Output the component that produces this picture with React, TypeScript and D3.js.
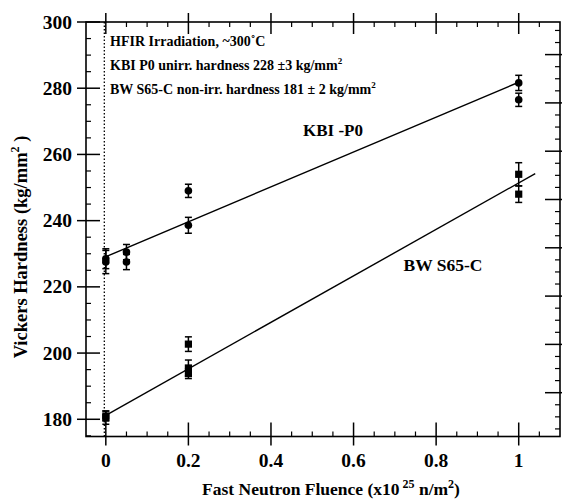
import React from "react"
import * as d3 from "d3"

// KBI-P0 (circles)
const kbiFluence = [0, 0, 0.05, 0.05, 0.2, 0.2, 1, 1]
const kbiHardness = [228.5, 227.5, 230.5, 227.5, 249, 238.6, 281.6, 276.5]
const kbiError = [3, 3.5, 2.3, 2.3, 2, 2.4, 2.3, 2]

// BW S65-C (squares)
const bwFluence = [0, 0, 0.2, 0.2, 0.2, 1, 1]
const bwHardness = [180.5, 181, 202.7, 195.5, 193.8, 254, 248]
const bwError = [2, 1.5, 2.2, 2.4, 1.5, 3.5, 2.5]

// fit lines [start fluence, end fluence], [intercept, slope]
const kbiFitRange = [0, 1]
const kbiFitCoef = [229.1, 52.7]
const bwFitRange = [0, 1.04]
const bwFitCoef = [181.2, 70.2]

const xTicks = [0, 0.2, 0.4, 0.6, 0.8, 1]
const xTickLabels = ["0", "0.2", "0.4", "0.6", "0.8", "1"]
const yTicks = [180, 200, 220, 240, 260, 280, 300]
const yTickLabels = ["180", "200", "220", "240", "260", "280", "300"]
// right-hand axis (secondary unit, unlabelled)
const rightTicks = [1, 2, 3, 4, 5, 6, 7, 8]

const notes = [
  ["HFIR Irradiation, ~300˚C", ""],
  ["KBI P0 unirr. hardness 228 ±3 kg/mm", "2"],
  ["BW S65-C non-irr. hardness 181 ± 2 kg/mm", "2"],
]

const txt = { fontFamily: "Liberation Serif", fontWeight: 700 }

const App = () => {
  const width = 562
  const height = 500
  const left = 86
  const right = 560
  const top = 22
  const bottom = 436.5
  const majOut = 9
  const majIn = 14
  const minIn = 5

  const x = d3.scaleLinear().domain([-0.048, 1.1]).range([left, right])
  const y = d3.scaleLinear().domain([174.8, 300]).range([bottom, top])
  const yR = d3.scaleLinear().domain([0.093, 8.675]).range([bottom, top])

  const xMinor = d3
    .range(-0.05, 1.1, 0.05)
    .filter((v) => v > -0.048 && v < 1.1 && Math.abs(v * 5 - Math.round(v * 5)) > 0.01)
  const yMinor = d3.range(175, 300, 5).filter((v) => v % 20 !== 0 && v > 174.8)
  const rMinor = d3
    .range(0, 8.75, 0.25)
    .filter((v) => v > 0.093 && v < 8.675 && v % 1 !== 0)

  const line = d3
    .line<number[]>()
    .x((d) => x(d[0]))
    .y((d) => y(d[1]))

  const fit = (range: number[], coef: number[]) =>
    line(range.map((f) => [f, coef[0] + coef[1] * f]))

  return (
    <svg
      width={width}
      height={height}
      style={{ position: "absolute", left: 0, top: 0, background: "#fff" }}
    >
      {/* frame */}
      <rect
        x={left}
        y={top}
        width={right - left}
        height={bottom - top}
        fill="none"
        stroke="#000"
        strokeWidth={1.6}
      />

      {/* x ticks bottom & top */}
      {xTicks.map((t, i) => (
        <g key={"xt" + i} stroke="#000" strokeWidth={1.5}>
          <line x1={x(t)} x2={x(t)} y1={bottom + majOut} y2={bottom - majIn} />
          <line x1={x(t)} x2={x(t)} y1={top - majOut} y2={top + majIn - 2} />
        </g>
      ))}
      {xMinor.map((t, i) => (
        <g key={"xm" + i} stroke="#000" strokeWidth={1.2}>
          <line x1={x(t)} x2={x(t)} y1={bottom} y2={bottom - minIn} />
          <line x1={x(t)} x2={x(t)} y1={top} y2={top + minIn} />
        </g>
      ))}
      {xTicks.map((t, i) => (
        <text
          key={"xl" + i}
          x={x(t)}
          y={467}
          textAnchor="middle"
          fontSize={19.5}
          style={txt}
        >
          {xTickLabels[i]}
        </text>
      ))}

      {/* y ticks left */}
      {yTicks.map((t, i) => (
        <line
          key={"yt" + i}
          x1={left - majOut}
          x2={left + majIn}
          y1={y(t)}
          y2={y(t)}
          stroke="#000"
          strokeWidth={1.5}
        />
      ))}
      {yMinor.map((t, i) => (
        <line
          key={"ym" + i}
          x1={left}
          x2={left + minIn}
          y1={y(t)}
          y2={y(t)}
          stroke="#000"
          strokeWidth={1.2}
        />
      ))}
      {yTicks.map((t, i) => (
        <text
          key={"yl" + i}
          x={72}
          y={y(t) + 6.5}
          textAnchor="end"
          fontSize={19.5}
          style={txt}
        >
          {yTickLabels[i]}
        </text>
      ))}

      {/* right axis */}
      {rightTicks.map((t, i) => (
        <line
          key={"rt" + i}
          x1={right - majIn - 1}
          x2={right + majOut}
          y1={yR(t)}
          y2={yR(t)}
          stroke="#000"
          strokeWidth={1.5}
        />
      ))}
      {rMinor.map((t, i) => (
        <line
          key={"rm" + i}
          x1={right - minIn}
          x2={right}
          y1={yR(t)}
          y2={yR(t)}
          stroke="#000"
          strokeWidth={1.2}
        />
      ))}

      {/* dotted zero line */}
      <line
        x1={x(0) - 1.5}
        x2={x(0) - 1.5}
        y1={top}
        y2={bottom}
        stroke="#000"
        strokeWidth={1.3}
        strokeDasharray="1.5,2"
      />

      {/* fits */}
      <path d={fit(kbiFitRange, kbiFitCoef) || ""} fill="none" stroke="#000" strokeWidth={1.4} />
      <path d={fit(bwFitRange, bwFitCoef) || ""} fill="none" stroke="#000" strokeWidth={1.4} />

      {/* KBI-P0 circles with error bars */}
      {kbiFluence.map((f, i) => {
        const cx = x(f)
        const y0 = y(kbiHardness[i] - kbiError[i])
        const y1 = y(kbiHardness[i] + kbiError[i])
        return (
          <g key={"k" + i} stroke="#000" strokeWidth={1.5}>
            <line x1={cx} x2={cx} y1={y0} y2={y1} />
            <line x1={cx - 3.5} x2={cx + 3.5} y1={y0} y2={y0} />
            <line x1={cx - 3.5} x2={cx + 3.5} y1={y1} y2={y1} />
            <circle cx={cx} cy={y(kbiHardness[i])} r={3.8} fill="#000" stroke="none" />
          </g>
        )
      })}

      {/* BW S65-C squares with error bars */}
      {bwFluence.map((f, i) => {
        const cx = x(f)
        const y0 = y(bwHardness[i] - bwError[i])
        const y1 = y(bwHardness[i] + bwError[i])
        return (
          <g key={"b" + i} stroke="#000" strokeWidth={1.5}>
            <line x1={cx} x2={cx} y1={y0} y2={y1} />
            <line x1={cx - 3.5} x2={cx + 3.5} y1={y0} y2={y0} />
            <line x1={cx - 3.5} x2={cx + 3.5} y1={y1} y2={y1} />
            <rect
              x={cx - 3.6}
              y={y(bwHardness[i]) - 3.6}
              width={7.2}
              height={7.2}
              fill="#000"
              stroke="none"
            />
          </g>
        )
      })}

      {/* annotations */}
      {notes.map((n, i) => (
        <text key={"n" + i} x={110} y={46 + i * 24} fontSize={14} style={txt}>
          {n[0]}
          {n[1] && (
            <tspan dy={-6} fontSize={9}>
              {n[1]}
            </tspan>
          )}
        </text>
      ))}
      <text x={333} y={136} textAnchor="middle" fontSize={17} style={txt}>
        KBI -P0
      </text>
      <text x={443} y={271} textAnchor="middle" fontSize={17.5} style={txt}>
        BW S65-C
      </text>

      {/* axis titles */}
      <text
        transform="translate(27,247) rotate(-90)"
        textAnchor="middle"
        fontSize={18.5}
        style={txt}
      >
        Vickers Hardness (kg/mm
        <tspan dy={-8} fontSize={12}>
          2
        </tspan>
        <tspan dy={8}>{" )"}</tspan>
      </text>
      <text x={331} y={495} textAnchor="middle" fontSize={17.5} style={txt}>
        Fast Neutron Fluence (x10
        <tspan dy={-7} fontSize={12}>
          {" 25"}
        </tspan>
        <tspan dy={7}>{"  n/m"}</tspan>
        <tspan dy={-7} fontSize={12}>
          2
        </tspan>
        <tspan dy={7}>)</tspan>
      </text>
    </svg>
  )
}

export default App
